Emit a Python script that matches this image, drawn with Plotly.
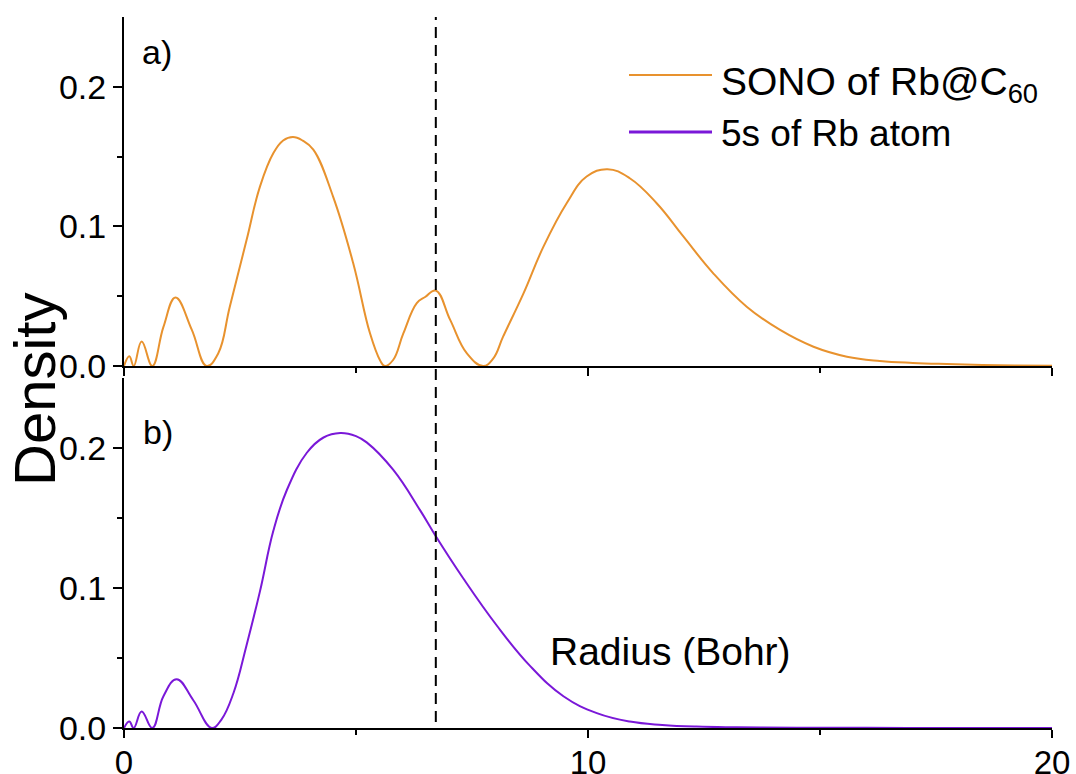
import plotly.graph_objects as go

# ---------------- data ----------------
sono_r = [0.0, 0.115, 0.21, 0.38, 0.61, 0.85, 1.11, 1.46, 1.78, 2.03, 2.28, 2.64, 2.93, 3.22,
          3.43, 3.64, 3.85, 4.08, 4.51, 4.94, 5.30, 5.52, 5.62, 5.80, 6.02, 6.31, 6.49, 6.72,
          7.03, 7.39, 7.74, 7.96, 8.17, 8.61, 9.04, 9.54, 9.97, 10.42, 10.9, 11.48, 12.05,
          12.70, 13.42, 14.14, 14.86, 15.58, 16.29, 17.0, 17.73, 18.5, 19.2, 20.0]
sono_density = [0.0, 0.007, 0.0, 0.0175, 0.0, 0.028, 0.049, 0.026, 0.0, 0.009, 0.0425, 0.090,
                0.1285, 0.1525, 0.1615, 0.164, 0.1615, 0.155, 0.121, 0.0736, 0.0236, 0.004, 0.0,
                0.0043, 0.0233, 0.045, 0.0494, 0.054, 0.033, 0.009, 0.0, 0.0055, 0.021, 0.052,
                0.0855, 0.1166, 0.1357, 0.141, 0.1345, 0.1166, 0.093, 0.0664, 0.0425, 0.0258,
                0.0138, 0.0067, 0.0036, 0.0022, 0.0014, 0.0008, 0.0004, 0.0002]

rb5s_r = [0.0, 0.115, 0.21, 0.38, 0.61, 0.85, 1.135, 1.49, 1.89, 2.1, 2.36, 2.64, 2.93, 3.22,
          3.51, 3.94, 4.3, 4.66, 5.0, 5.23, 5.80, 6.38, 6.72, 7.31, 8.03, 8.75, 9.47, 10.19,
          10.9, 11.6, 12.34, 13.2, 14.5, 16.0, 18.0, 20.0]
rb5s_density = [0.0, 0.0046, 0.0, 0.0118, 0.0, 0.0227, 0.0348, 0.020, 0.0, 0.006, 0.025, 0.059,
                0.0976, 0.141, 0.170, 0.1966, 0.2075, 0.2107, 0.2085, 0.204, 0.1845, 0.1556,
                0.137, 0.107, 0.0734, 0.0444, 0.0227, 0.0106, 0.0046, 0.0022, 0.001, 0.0005,
                0.0002, 0.0001, 0.0, 0.0]

c60_shell_radius = 6.72
x_tick_vals = [0, 10, 20]
x_tick_labels = ["0", "10", "20"]
x_minor_vals = [5, 15]
y_tick_vals = [0.0, 0.1, 0.2]
y_tick_labels = ["0.0", "0.1", "0.2"]
y_minor_vals = [0.05, 0.15]
series_names = ["SONO of Rb@C<sub>60</sub>", "5s of Rb atom"]
panel_labels = ["a)", "b)"]
x_title = "Radius (Bohr)"
y_title = "Density"

# ---------------- styling ----------------
ORANGE = "#E8922E"
PURPLE = "#7A18D8"
FONT = "Liberation Sans, Arial, sans-serif"
W, H = 1076, 774
# plot area in page pixels: x 124..1052, y 17..728
L, T = 124, 17
R = W - 1052
B = H - 728


def px_x(px):
    return (px - L) / (W - L - R)


def px_y(py):
    return (H - B - py) / (H - T - B)


fig = go.Figure()
fig.add_trace(go.Scatter(x=sono_r, y=sono_density, xaxis="x2", yaxis="y2", mode="lines",
                         name=series_names[0], showlegend=False,
                         line=dict(color=ORANGE, width=2, shape="spline", smoothing=1.2)))
fig.add_trace(go.Scatter(x=rb5s_r, y=rb5s_density, xaxis="x", yaxis="y", mode="lines",
                         name=series_names[1], showlegend=False,
                         line=dict(color=PURPLE, width=2, shape="spline", smoothing=1.2)))

xaxis_common = dict(range=[0, 20], showline=True, linecolor="black", linewidth=2,
                    ticks="outside", ticklen=8, tickwidth=2, tickcolor="black",
                    tickmode="array", tickvals=x_tick_vals, ticktext=x_tick_labels,
                    minor=dict(tickmode="array", tickvals=x_minor_vals, ticks="outside",
                               ticklen=5, tickwidth=2, tickcolor="black", showgrid=False),
                    showgrid=False, zeroline=False, ticklabelstandoff=-4,
                    tickfont=dict(family=FONT, size=33, color="black"))
yaxis_common = dict(range=[0, 0.25], showline=True, linecolor="black", linewidth=2,
                    ticks="outside", ticklen=9, tickwidth=2, tickcolor="black",
                    tickmode="array", tickvals=y_tick_vals, ticktext=y_tick_labels,
                    minor=dict(tickmode="array", tickvals=y_minor_vals, ticks="outside",
                               ticklen=5, tickwidth=2, tickcolor="black", showgrid=False),
                    showgrid=False, zeroline=False,
                    tickfont=dict(family=FONT, size=34, color="black"))

bottom_top = px_y(378)
top_bottom = px_y(366)

fig.update_layout(
    width=W, height=H,
    margin=dict(l=L, r=R, t=T, b=B, autoexpand=False),
    paper_bgcolor="white", plot_bgcolor="white",
    font=dict(family=FONT, color="black"),
    xaxis=dict(**xaxis_common, domain=[0, 1], anchor="y"),
    yaxis=dict(**yaxis_common, domain=[0, bottom_top], anchor="x"),
    xaxis2=dict(**xaxis_common, domain=[0, 1], anchor="y2", matches="x", showticklabels=False),
    yaxis2=dict(**yaxis_common, domain=[top_bottom, 1], anchor="x2"),
)

shapes = [
    dict(type="line", xref="x", yref="paper", x0=c60_shell_radius, x1=c60_shell_radius,
         y0=px_y(722), y1=1, line=dict(color="black", width=2, dash="11px,7px"), layer="above"),
    dict(type="line", xref="paper", yref="paper", x0=px_x(629), x1=px_x(712),
         y0=px_y(75), y1=px_y(75), line=dict(color=ORANGE, width=2)),
    dict(type="line", xref="paper", yref="paper", x0=px_x(629), x1=px_x(712),
         y0=px_y(132), y1=px_y(132), line=dict(color=PURPLE, width=3)),
]
fig.update_layout(shapes=shapes)

annotations = [
    dict(text=y_title, x=px_x(34), y=px_y(390), xref="paper", yref="paper", showarrow=False,
         textangle=-90, xanchor="center", yanchor="middle", font=dict(size=58)),
    dict(text=x_title, x=px_x(670), y=px_y(651), xref="paper", yref="paper", showarrow=False,
         xanchor="center", yanchor="middle", font=dict(size=39)),
    dict(text=panel_labels[0], x=px_x(140), y=px_y(52), xref="paper", yref="paper",
         showarrow=False, xanchor="left", yanchor="middle", font=dict(size=34)),
    dict(text=panel_labels[1], x=px_x(141), y=px_y(432), xref="paper", yref="paper",
         showarrow=False, xanchor="left", yanchor="middle", font=dict(size=34)),
    dict(text=series_names[0], x=px_x(719), y=px_y(84), xref="paper", yref="paper",
         showarrow=False, xanchor="left", yanchor="middle", font=dict(size=39)),
    dict(text=series_names[1], x=px_x(719), y=px_y(133), xref="paper", yref="paper",
         showarrow=False, xanchor="left", yanchor="middle", font=dict(size=37)),
]
fig.update_layout(annotations=annotations)

# remove the browser's default 8px body margin so the 1076x774 figure fills the window
fig.write_html("out.html",
               config={"displayModeBar": False},
               post_script="document.body.style.margin='0';document.body.style.overflow='hidden';")
